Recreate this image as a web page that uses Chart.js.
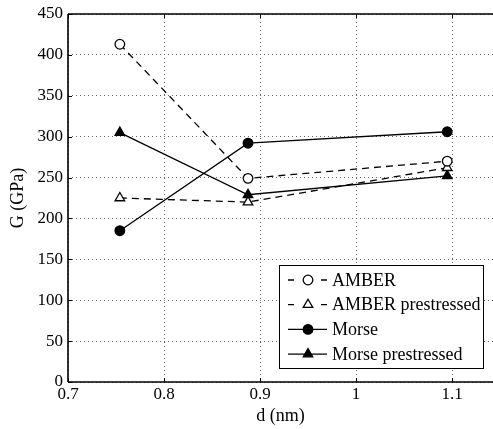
<!DOCTYPE html>
<html>
<head>
<meta charset="utf-8">
<script src="https://cdn.jsdelivr.net/npm/chart.js@4/dist/chart.umd.min.js"></script>
<style>
  html, body { margin: 0; padding: 0; background: #fff; }
  #wrap { width: 493px; height: 429px; }
</style>
</head>
<body>
<div id="wrap"><canvas id="myChart" width="493" height="429"></canvas></div>
<script>
// values
var dValues = [0.754, 0.8875, 1.095];
var amber = [413, 249, 270];
var amberPre = [225, 220, 262];
var morse = [185, 292, 306];
var morsePre = [305, 229, 252];
var xTicks = [0.7, 0.8, 0.9, 1, 1.1];
var yTicks = [0, 50, 100, 150, 200, 250, 300, 350, 400, 450];

function pts(ys) {
  return ys.map(function (y, i) { return { x: dValues[i], y: y }; });
}

var serif = "'Liberation Serif', 'Times New Roman', serif";

// legend drawn inside the plot, bottom right
var boxLegend = {
  id: 'boxLegend',
  afterDatasetsDraw: function (chart) {
    var ctx = chart.ctx, a = chart.chartArea;
    var x1 = a.right - 214, x2 = a.right - 10, y1 = a.bottom - 117, y2 = a.bottom - 14;
    ctx.save();
    ctx.fillStyle = '#fff';
    ctx.fillRect(x1, y1, x2 - x1, y2 - y1);
    ctx.strokeStyle = '#000';
    ctx.lineWidth = 1;
    ctx.strokeRect(x1 + 0.5, y1 + 0.5, x2 - x1, y2 - y1);
    ctx.font = '18px ' + serif;
    ctx.textBaseline = 'middle';
    chart.data.datasets.forEach(function (ds, i) {
      var y = y1 + 15 + i * 24.7;
      var lx = x1 + 9, rx = x1 + 48, cx = x1 + 29;
      ctx.strokeStyle = '#000';
      ctx.lineWidth = 1.3;
      ctx.beginPath();
      if (ds.borderDash && ds.borderDash.length) {
        ctx.moveTo(lx, y); ctx.lineTo(lx + 6, y);
        ctx.moveTo(rx - 6, y); ctx.lineTo(rx, y);
      } else {
        ctx.moveTo(lx, y); ctx.lineTo(rx, y);
      }
      ctx.stroke();
      ctx.fillStyle = ds.pointBackgroundColor;
      ctx.strokeStyle = '#000';
      Chart.helpers.drawPoint(ctx, {
        pointStyle: ds.pointStyle, radius: ds.pointRadius, borderWidth: 1.3, rotation: 0
      }, cx, y);
      ctx.fillStyle = '#000';
      ctx.fillText(ds.label, x1 + 53, y + 1);
    });
    ctx.restore();
  }
};

// solid frame on top and bottom with inward tick marks
var frame = {
  id: 'frame',
  afterDraw: function (chart) {
    var ctx = chart.ctx, a = chart.chartArea, xs = chart.scales.x, ys = chart.scales.y;
    ctx.save();
    ctx.strokeStyle = '#000';
    ctx.lineWidth = 1.6;
    ctx.beginPath();
    ctx.moveTo(a.left, a.top); ctx.lineTo(a.right, a.top);
    ctx.moveTo(a.left, a.bottom); ctx.lineTo(a.right, a.bottom);
    ctx.moveTo(a.left, a.top); ctx.lineTo(a.left, a.bottom);
    ctx.stroke();
    ctx.lineWidth = 1;
    ctx.beginPath();
    xTicks.forEach(function (t) {
      var px = Math.round(xs.getPixelForValue(t)) + 0.5;
      ctx.moveTo(px, a.bottom); ctx.lineTo(px, a.bottom - 4);
      ctx.moveTo(px, a.top); ctx.lineTo(px, a.top + 4);
    });
    yTicks.forEach(function (t) {
      var py = Math.round(ys.getPixelForValue(t)) + 0.5;
      ctx.moveTo(a.left, py); ctx.lineTo(a.left + 4, py);
    });
    ctx.stroke();
    ctx.restore();
  }
};

function series(label, ys, dashed, style, filled) {
  return {
    label: label,
    data: pts(ys),
    borderColor: '#000',
    borderWidth: 1.3,
    borderDash: dashed ? [7, 5] : [],
    pointStyle: style,
    pointRadius: style === 'triangle' ? 5.5 : 4.8,
    pointBorderWidth: 1.3,
    pointBorderColor: '#000',
    pointBackgroundColor: filled ? '#000' : '#fff',
    tension: 0,
    fill: false
  };
}

var ctx = document.getElementById('myChart').getContext('2d');
var chart = new Chart(ctx, {
  type: 'line',
  data: {
    datasets: [
      series('AMBER', amber, true, 'circle', false),
      series('AMBER prestressed', amberPre, true, 'triangle', false),
      series('Morse', morse, false, 'circle', true),
      series('Morse prestressed', morsePre, false, 'triangle', true)
    ]
  },
  options: {
    responsive: false,
    animation: false,
    layout: { autoPadding: false, padding: { top: 14, right: 0, left: 0, bottom: 0 } },
    plugins: { legend: { display: false }, tooltip: { enabled: false } },
    scales: {
      x: {
        type: 'linear',
        min: 0.7,
        max: 1.1427,
        afterBuildTicks: function (s) { s.ticks = xTicks.map(function (v) { return { value: v }; }); },
        afterFit: function (s) { s.height = 47; s.paddingRight = 0; s.paddingLeft = 0; },
        ticks: {
          color: '#000', font: { family: serif, size: 17 }, padding: 2, maxRotation: 0,
          callback: function (v) { return String(v); }
        },
        grid: { color: '#666', lineWidth: 1, drawTicks: false, tickLength: 0 },
        border: { display: false, dash: [1, 3] },
        title: { display: true, text: 'd (nm)', color: '#000', font: { family: serif, size: 18 }, padding: { top: 0, bottom: 2 } }
      },
      y: {
        min: 0,
        max: 450,
        afterBuildTicks: function (s) { s.ticks = yTicks.map(function (v) { return { value: v }; }); },
        afterFit: function (s) { s.width = 68; s.paddingTop = 0; s.paddingBottom = 0; },
        ticks: { color: '#000', font: { family: serif, size: 17 }, padding: 5 },
        grid: { color: '#666', lineWidth: 1, drawTicks: false, tickLength: 0 },
        border: { display: false, dash: [1, 3] },
        title: { display: true, text: 'G (GPa)', color: '#000', font: { family: serif, size: 18 }, padding: { top: 7, bottom: 0 } }
      }
    }
  },
  plugins: [boxLegend, frame]
});
</script>
</body>
</html>
